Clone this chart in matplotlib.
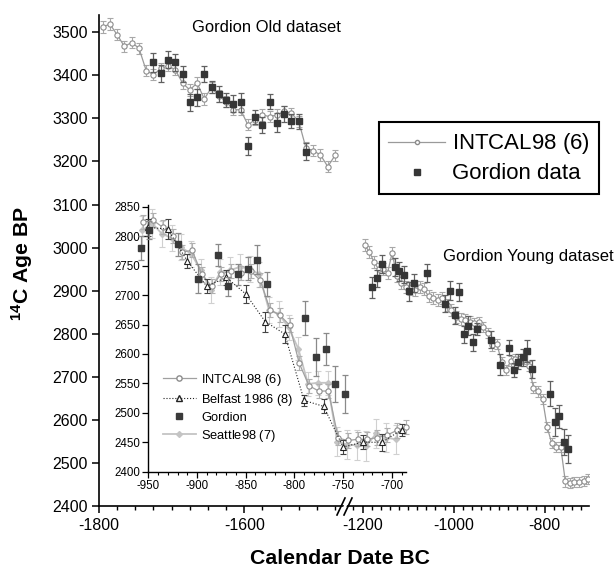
import numpy as np
import matplotlib
matplotlib.use('Agg')
import matplotlib.pyplot as plt
from matplotlib.lines import Line2D
from matplotlib.patches import Polygon

plt.rcParams['font.family'] = ['Liberation Sans', 'DejaVu Sans']
plt.rcParams['mathtext.fontset'] = 'custom'
plt.rcParams['mathtext.rm'] = 'Liberation Sans'
plt.rcParams['mathtext.it'] = 'Liberation Sans:italic'
plt.rcParams['mathtext.bf'] = 'Liberation Sans:bold'

# ---------------- data ----------------
old_intcal_x = [-1795, -1785, -1775, -1765, -1755, -1745, -1735, -1725, -1715, -1705,
                -1695, -1685, -1675, -1665, -1655, -1645, -1635, -1625, -1615, -1605,
                -1595, -1585, -1575, -1565, -1555, -1545, -1535, -1525, -1515, -1505,
                -1495, -1485, -1475]
old_intcal_y = [3512, 3519, 3494, 3467, 3476, 3463, 3411, 3401, 3416, 3422,
                3413, 3382, 3366, 3382, 3345, 3372, 3352, 3339, 3320, 3320,
                3285, 3297, 3308, 3304, 3308, 3316, 3312, 3293, 3231, 3225,
                3215, 3188, 3214]
old_intcal_err = [13, 13, 13, 13, 13, 13, 13, 13, 13, 13,
                  13, 13, 13, 13, 13, 13, 13, 13, 13, 13,
                  13, 13, 13, 13, 13, 13, 13, 13, 13, 13,
                  13, 13, 13]

old_gor_x = [-1725, -1715, -1705, -1695, -1685, -1675, -1665, -1655, -1645, -1635, -1625,
             -1615, -1605, -1595, -1585, -1575, -1565, -1555, -1545, -1535, -1525, -1515]
old_gor_y = [3430, 3405, 3436, 3430, 3403, 3337, 3349, 3403, 3372, 3356, 3343,
             3334, 3337, 3236, 3303, 3285, 3339, 3290, 3310, 3293, 3293, 3223]
old_gor_err = [22, 20, 20, 20, 18, 20, 20, 18, 14, 18, 16,
               20, 22, 20, 16, 18, 18, 22, 18, 16, 18, 20]

intcal_x = [-1195, -1185, -1175, -1165, -1155, -1145, -1135, -1125, -1115, -1105,
            -1095, -1085, -1075, -1065, -1055, -1045, -1035, -1025, -1015, -1005,
            -995, -985, -975, -965, -955, -945, -935, -925, -915, -905,
            -895, -885, -875, -865, -855, -845, -835, -825, -815, -805,
            -795, -785, -775, -765, -755, -745, -735, -725, -715, -705,
            -695, -685]
intcal_y = [3005, 2990, 2967, 2950, 2950, 2942, 2988, 2934, 2917, 2909,
            2905, 2901, 2909, 2903, 2887, 2882, 2878, 2882, 2866, 2856,
            2839, 2835, 2831, 2827, 2824, 2827, 2815, 2801, 2773, 2776,
            2735, 2715, 2736, 2741, 2737, 2741, 2725, 2675, 2666, 2649,
            2584, 2546, 2537, 2537, 2457, 2453, 2455, 2455, 2458, 2462,
            2470, 2476]
intcal_err = [14, 14, 14, 14, 14, 14, 14, 14, 14, 14,
              14, 14, 14, 14, 14, 14, 14, 14, 14, 14,
              14, 14, 14, 14, 12, 12, 12, 12, 12, 12,
              12, 12, 12, 12, 12, 12, 12, 12, 12, 12,
              12, 12, 12, 12, 12, 12, 12, 12, 12, 12,
              12, 12]

gor_x = [-1180, -1169, -1158, -1129, -1120, -1109, -1099, -1088, -1058, -1019,
         -1008, -998, -988, -978, -968, -958, -949, -919, -899, -878,
         -868, -858, -848, -838, -828, -789, -778, -768, -758, -748]
gor_y = [2908, 2929, 2962, 2955, 2945, 2937, 2899, 2918, 2942, 2870,
         2900, 2843, 2896, 2799, 2818, 2780, 2811, 2786, 2728, 2768,
         2715, 2735, 2745, 2760, 2719, 2661, 2595, 2608, 2549, 2532]
gor_err = [24, 20, 20, 20, 22, 20, 22, 20, 21, 20,
           22, 20, 21, 20, 22, 20, 15, 20, 24, 18,
           16, 18, 20, 25, 21, 29, 32, 27, 30, 33]

belfast_x = [-950, -930, -910, -890, -870, -850, -830, -810, -790, -770, -750, -730, -710, -690]
belfast_y = [2815, 2812, 2758, 2715, 2730, 2702, 2655, 2634, 2521, 2511, 2442, 2450, 2450, 2471]
belfast_err = [15, 17, 12, 12, 13, 15, 17, 15, 10, 12, 12, 12, 14, 10]

seattle_x = [-956, -946, -936, -926, -916, -906, -896, -886, -876, -866, -856, -846, -836, -826,
             -816, -806, -796, -786, -776, -766, -756, -746, -736, -726, -716, -706, -696]
seattle_y = [2810, 2822, 2804, 2797, 2781, 2770, 2742, 2709, 2739, 2742, 2748, 2745, 2735, 2674,
             2668, 2645, 2609, 2549, 2551, 2551, 2451, 2446, 2445, 2444, 2465, 2458, 2455]
seattle_err = [25, 25, 22, 22, 22, 22, 20, 22, 22, 22, 22, 22, 22, 22,
               22, 22, 20, 20, 20, 20, 25, 25, 25, 25, 25, 25, 25]

main_xticks = [-1800, -1600, -1200, -1000, -800]
main_yticks = [2400, 2500, 2600, 2700, 2800, 2900, 3000, 3100, 3200, 3300, 3400, 3500]
inset_xticks = [-950, -900, -850, -800, -750, -700]
inset_yticks = [2400, 2450, 2500, 2550, 2600, 2650, 2700, 2750, 2800, 2850]

# ---------------- figure ----------------
W, H = 615, 567
fig = plt.figure(figsize=(W / 100, H / 100), dpi=100)


def fx(px):
    return px / W


def fy(py):
    return 1 - py / H


# broken x scale (piecewise linear)
L_SLOPE = 0.7265
R_SLOPE = 0.4558
BRK_L = -1465.0
BRK_R = -1244.0
U_L = (BRK_L + 1800) * L_SLOPE
GAP = 0.22


def fwd(x):
    x = np.asarray(x, float)
    left = (x + 1800) * L_SLOPE
    mid = U_L + (x - BRK_L) * GAP / (BRK_R - BRK_L)
    right = U_L + GAP + (x - BRK_R) * R_SLOPE
    return np.where(x <= BRK_L, left, np.where(x < BRK_R, mid, right))


def inv(u):
    u = np.asarray(u, float)
    left = u / L_SLOPE - 1800
    mid = BRK_L + (u - U_L) * (BRK_R - BRK_L) / GAP
    right = BRK_R + (u - U_L - GAP) / R_SLOPE
    return np.where(u <= U_L, left, np.where(u < U_L + GAP, mid, right))


ax = fig.add_axes([fx(99), fy(506), (589 - 99) / W, (506 - 15) / H])
ax.set_xscale('function', functions=(fwd, inv))
ax.set_xlim(-1800, -703)
ax.set_ylim(2400, 3540)
for s in ['top', 'right']:
    ax.spines[s].set_visible(False)
for s in ['left', 'bottom']:
    ax.spines[s].set_linewidth(1.2)

ax.set_xticks(main_xticks)
ax.set_xticklabels([str(v) for v in main_xticks])
minor_left = [v for v in range(-1775, -1470, 25) if v not in main_xticks]
minor_right = [v for v in range(-1220, -710, 20) if v not in main_xticks]
ax.set_xticks(minor_left + minor_right, minor=True)
ax.set_yticks(main_yticks)
ax.tick_params(axis='both', which='major', direction='out', length=5, width=1.1,
               labelsize=11.5, colors='black')
ax.tick_params(axis='x', which='major', pad=4)
ax.tick_params(axis='y', which='major', pad=3)
ax.tick_params(axis='x', which='minor', direction='out', length=3, width=1.0)

c_int = '#9a9a9a'
c_int_e = '#a8a8a8'
c_gor = '#363636'
c_gor_e = '#606060'

ax.errorbar(old_intcal_x, old_intcal_y, yerr=old_intcal_err, fmt='-o', color=c_int,
            mfc='white', mec='#8c8c8c', mew=0.8, ms=3.8, lw=0.9, ecolor=c_int_e,
            elinewidth=0.8, capsize=2.3, capthick=0.8, zorder=2)
ax.errorbar(old_gor_x, old_gor_y, yerr=old_gor_err, fmt='s', color=c_gor, mec=c_gor,
            ms=4.4, ecolor=c_gor_e, elinewidth=0.9, capsize=2.3, capthick=0.9, zorder=3)
ax.errorbar(intcal_x, intcal_y, yerr=intcal_err, fmt='-o', color=c_int,
            mfc='white', mec='#8c8c8c', mew=0.8, ms=3.8, lw=0.9, ecolor=c_int_e,
            elinewidth=0.8, capsize=2.3, capthick=0.8, zorder=2)
ax.errorbar(gor_x, gor_y, yerr=gor_err, fmt='s', color=c_gor, mec=c_gor,
            ms=4.4, ecolor=c_gor_e, elinewidth=0.9, capsize=2.3, capthick=0.9, zorder=3)

fig.text(fx(266), fy(28), 'Gordion Old dataset', ha='center', va='center', fontsize=11.9)
fig.text(fx(528), fy(256), 'Gordion Young dataset', ha='center', va='center', fontsize=12)

fig.text(fx(340), fy(558), 'Calendar Date BC', ha='center', va='center',
         fontsize=15.3, fontweight='bold')
fig.text(fx(22), fy(263), r'$^{\mathregular{14}}$C Age BP', ha='center', va='center',
         rotation=90, fontsize=15.3, fontweight='bold')

main_handles = [
    Line2D([], [], color=c_int, lw=0.9, marker='o', ms=3.0, mfc='white', mec='#8c8c8c'),
    Line2D([], [], color=c_gor, lw=0, marker='s', ms=4.4),
]
leg = ax.legend(main_handles, [r'INTCAL98 ($\mathit{6}$)', 'Gordion data'],
                loc='upper left', bbox_to_anchor=(fx(379), fy(122)),
                bbox_transform=fig.transFigure, borderaxespad=0, fontsize=16,
                handlelength=2.55, handletextpad=0.3, labelspacing=0.32,
                borderpad=0.42, fancybox=False, framealpha=1, edgecolor='black')
leg.get_frame().set_linewidth(1.5)

# break marks on the x axis
yb0, yb1 = 515, 498
gap_poly = Polygon([[fx(340), fy(yb0)], [fx(347), fy(yb1)], [fx(350), fy(yb1)],
                    [fx(343), fy(yb0)]], closed=True, transform=fig.transFigure,
                   facecolor='white', edgecolor='none', zorder=10)
fig.add_artist(gap_poly)
for x0 in (337, 344):
    fig.add_artist(Line2D([fx(x0), fx(x0 + 8)], [fy(yb0), fy(yb1)],
                          transform=fig.transFigure, color='black', lw=1.2, zorder=11))

# ---------------- inset ----------------
ax2 = fig.add_axes([fx(148.3), fy(471.7), (406.4 - 148.3) / W, (471.7 - 205) / H])
ax2.set_facecolor('none')
ax2.set_xlim(-950, -685)
ax2.set_ylim(2400, 2853)
for s in ['top', 'right']:
    ax2.spines[s].set_visible(False)
for s in ['left', 'bottom']:
    ax2.spines[s].set_linewidth(1.0)
ax2.set_xticks(inset_xticks)
ax2.set_xticklabels([str(v) for v in inset_xticks])
ax2.set_xticks([v for v in range(-940, -685, 10) if v not in inset_xticks], minor=True)
ax2.set_yticks(inset_yticks)
ax2.tick_params(axis='both', which='major', direction='out', length=4, width=0.9,
                labelsize=8.3, pad=2)
ax2.tick_params(axis='x', which='minor', direction='out', length=2.3, width=0.8)

ins_ix = [i for i, v in enumerate(intcal_x) if v >= -958]
ins_int_x = [intcal_x[i] for i in ins_ix]
ins_int_y = [intcal_y[i] for i in ins_ix]
ins_int_e = [intcal_err[i] for i in ins_ix]
ins_gx = [i for i, v in enumerate(gor_x) if v >= -960]
ins_gor_x = [gor_x[i] for i in ins_gx]
ins_gor_y = [gor_y[i] for i in ins_gx]
ins_gor_e = [gor_err[i] for i in ins_gx]

c_sea = '#c4c4c4'
e1 = ax2.errorbar(seattle_x, seattle_y, yerr=seattle_err, fmt='-D', color=c_sea, mec=c_sea,
                  ms=3.0, lw=1.3, ecolor='#d0d0d0', elinewidth=0.8, capsize=2.0,
                  capthick=0.8, zorder=2)
e2 = ax2.errorbar(ins_int_x, ins_int_y, yerr=ins_int_e, fmt='-o', color='#a0a0a0',
                  mfc='white', mec='#8c8c8c', mew=0.8, ms=3.8, lw=0.9, ecolor='#b0b0b0',
                  elinewidth=0.8, capsize=2.0, capthick=0.8, zorder=3)
e3 = ax2.errorbar(belfast_x, belfast_y, yerr=belfast_err, fmt='^', ls=':', color='#222222',
                  mfc='white', mec='#222222', mew=0.8, ms=4.2, lw=0.8, ecolor='#444444',
                  elinewidth=0.8, capsize=2.0, capthick=0.8, zorder=4)
e4 = ax2.errorbar(ins_gor_x, ins_gor_y, yerr=ins_gor_e, fmt='s', color='#3a3a3a',
                  mec='#3a3a3a', ms=4.0, ecolor='#8a8a8a', elinewidth=0.9, capsize=2.0,
                  capthick=0.9, zorder=5)
for cont in (e1, e2, e3, e4):
    for art in cont.get_children():
        art.set_clip_on(False)

inset_handles = [
    Line2D([], [], color='#a0a0a0', lw=0.9, marker='o', ms=3.8, mfc='white', mec='#8c8c8c'),
    Line2D([], [], color='#222222', lw=0.8, ls=':', marker='^', ms=4.2, mfc='white',
           mec='#222222'),
    Line2D([], [], color='#3a3a3a', lw=0, marker='s', ms=4.0),
    Line2D([], [], color=c_sea, lw=1.3, marker='D', ms=3.0),
]
ax2.legend(inset_handles, [r'INTCAL98 ($\mathit{6}$)', r'Belfast 1986 ($\mathit{8}$)',
                           'Gordion', r'Seattle98 ($\mathit{7}$)'],
           loc='upper left', bbox_to_anchor=(fx(163), fy(372)),
           bbox_transform=fig.transFigure, frameon=False, borderpad=0, borderaxespad=0,
           fontsize=9.3, handlelength=2.55, handletextpad=0.4, labelspacing=0.3)

fig.savefig('out.png', dpi=100)
